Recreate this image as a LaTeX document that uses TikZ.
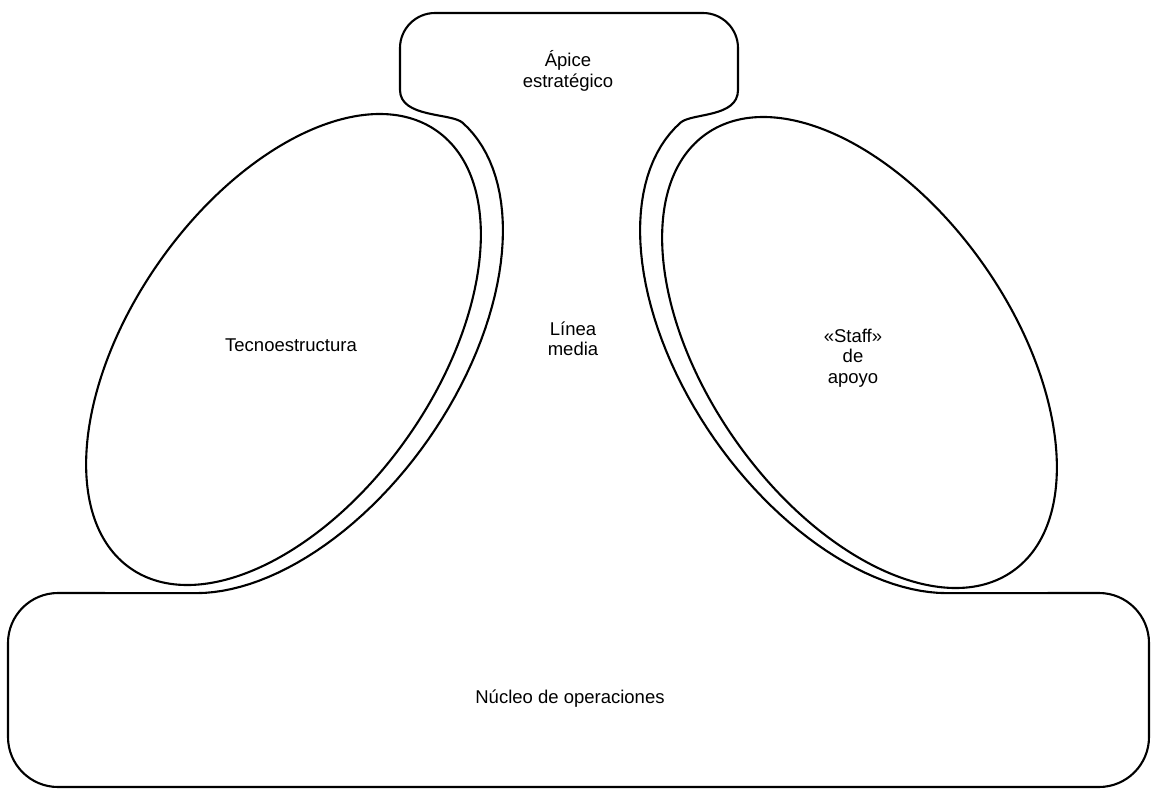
\documentclass[tikz,border=0pt]{standalone}
\usepackage{fontspec}
\setmainfont{Liberation Sans}
\usetikzlibrary{shapes.geometric}
\begin{document}
\begin{tikzpicture}[x=1pt,y=-1pt,
  outline/.style={draw=black, line width=2.1pt, line join=round},
  lobe/.style={draw=black, ellipse, line width=2.1pt, inner sep=0pt, minimum width=534pt, minimum height=304pt},
  lbl/.style={font=\fontsize{18.5}{20.5}\selectfont, align=center, inner sep=0pt}]
\useasboundingbox (0,0) rectangle (1152,790);
% single outline: apex, middle line, operating core
\draw[outline] (435,13) -- (703,13) .. controls (722.3,13) and (738,28.7) .. (738,48) -- (738,90)
  .. controls (738,118) and (691.6,112.7) .. (680.4,122.7)
  -- plot[domain=4:157.6, samples=60, variable=\t] ({850-160.6*cos(\t)-135.2*sin(\t)}, {345-229.4*cos(\t)+94.6*sin(\t)})
  -- (1099,593) .. controls (1126.6,593) and (1149,615.4) .. (1149,643) -- (1149,737)
  .. controls (1149,764.6) and (1126.6,787) .. (1099,787) -- (58,787)
  .. controls (30.4,787) and (8,764.6) .. (8,737) -- (8,643)
  .. controls (8,615.4) and (30.4,593) .. (58,593)
  -- plot[domain=157.6:4, samples=60, variable=\t] ({293+160.6*cos(\t)+135.2*sin(\t)}, {345-229.4*cos(\t)+94.6*sin(\t)})
  .. controls (451.4,112.7) and (400,118) .. (400,90) -- (400,48)
  .. controls (400,28.7) and (415.7,13) .. (435,13) -- cycle;
% lobes
\node[lobe, rotate=55] (tecno) at (283.5,349.5) {};
\node[lobe, rotate=-55] (staff) at (859.5,352.5) {};
% labels
\node[lbl] (apice) at (568,71) {Ápice\\estratégico};
\node[lbl] (tecnolbl) at (291,345) {Tecnoestructura};
\node[lbl] (linea) at (573,339) {Línea\\media};
\node[lbl] (stafflbl) at (853,358) {«Staff»\\de\\apoyo};
\node[lbl] (nucleo) at (570,699) {Núcleo de operaciones};
\end{tikzpicture}
\end{document}
